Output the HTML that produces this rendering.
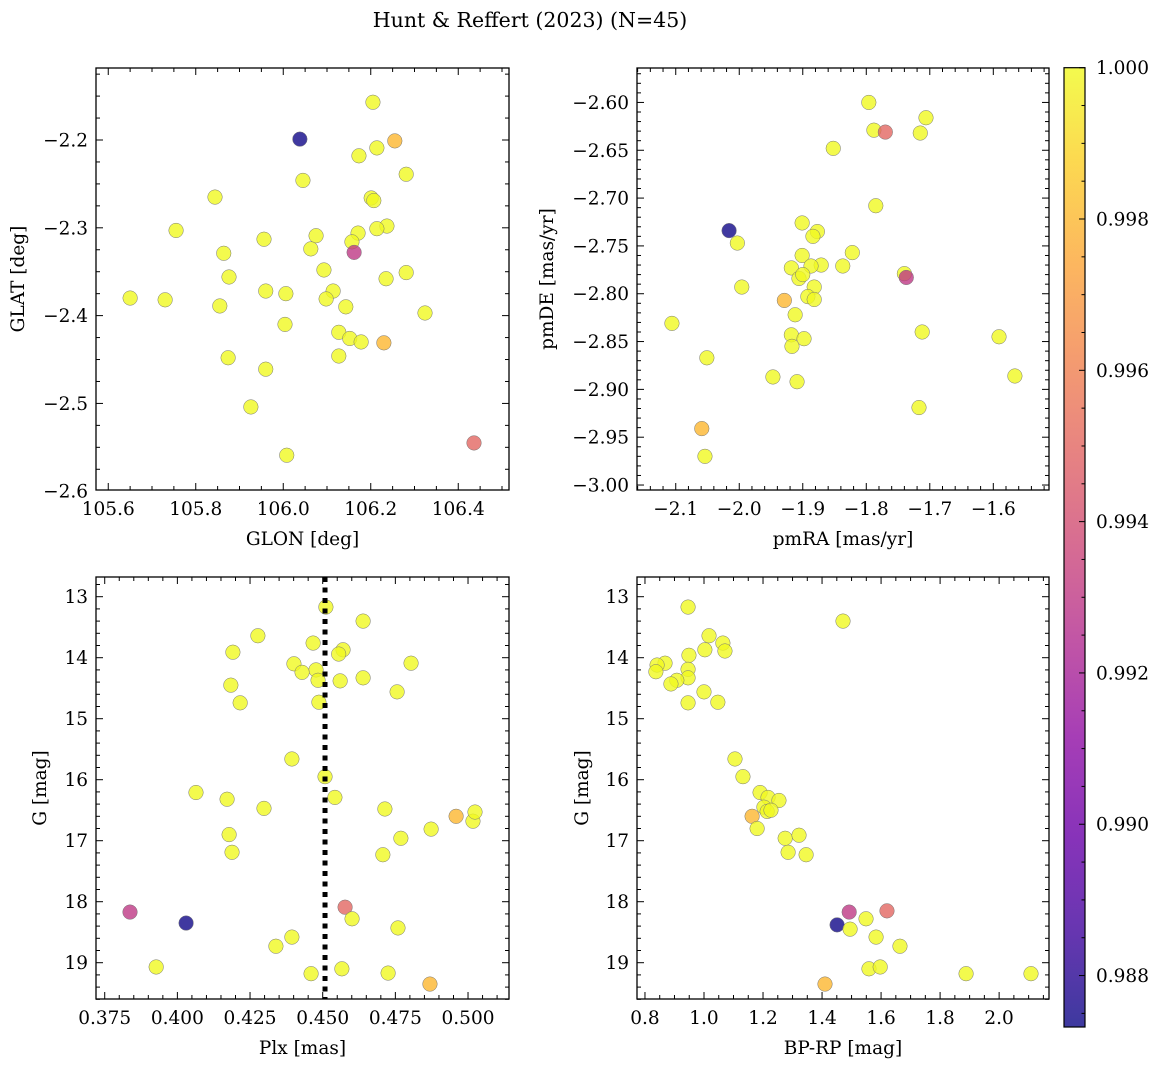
<!DOCTYPE html>
<html><head><meta charset="utf-8">
<style>
html,body{margin:0;padding:0;background:#fff;}
svg{display:block;font-family:"DejaVu Serif","Liberation Serif",serif;}
</style></head>
<body>
<svg id="fig" width="1161" height="1067" viewBox="0 0 1161 1067" xmlns="http://www.w3.org/2000/svg">
<defs>
<linearGradient id="cbgrad" x1="0" y1="1" x2="0" y2="0"></linearGradient>
</defs>
<text x="530" y="27" text-anchor="middle" font-size="20.5">Hunt &amp; Reffert (2023) (N=45)</text>
</svg>
<script>
// ---- data: panel 1 (GLON vs GLAT)
const glonP1 = [106.038,106.255,106.205,106.173,106.214,106.045,106.281,105.844,106.201,106.207,105.755,106.171,106.075,105.956,106.237,106.214,106.157,105.864,106.063,106.162,106.093,106.281,105.876,106.235,105.65,105.73,105.96,106.006,106.114,106.098,106.143,105.855,106.324,106.004,106.127,106.152,106.23,106.178,105.874,106.127,105.96,105.926,106.008,106.436];
const glatP1 = [-2.199,-2.201,-2.157,-2.218,-2.209,-2.246,-2.239,-2.265,-2.266,-2.269,-2.303,-2.306,-2.309,-2.313,-2.298,-2.301,-2.316,-2.329,-2.324,-2.328,-2.348,-2.351,-2.356,-2.358,-2.380,-2.382,-2.372,-2.375,-2.372,-2.381,-2.390,-2.389,-2.397,-2.410,-2.419,-2.426,-2.431,-2.430,-2.448,-2.446,-2.461,-2.504,-2.559,-2.545];
const probP1 = [0.9874,0.998,1,1,1,1,1,1,1,1,1,1,1,1,1,1,1,1,1,0.993,1,1,1,1,1,1,1,1,1,1,1,1,1,1,1,1,0.998,1,1,1,1,1,1,0.995];
// ---- data: panel 2 (pmRA vs pmDE)
const pmraP2 = [-1.796,-1.788,-1.770,-1.715,-1.706,-1.852,-1.785,-2.016,-2.003,-1.901,-1.877,-1.884,-1.901,-1.822,-1.918,-1.871,-1.887,-1.837,-1.906,-1.900,-1.740,-1.737,-1.882,-1.996,-1.929,-1.892,-1.882,-1.912,-2.106,-1.918,-1.898,-1.917,-1.712,-2.051,-1.591,-1.566,-1.947,-1.909,-1.717,-2.059,-2.054];
const pmdeP2 = [-2.600,-2.629,-2.631,-2.632,-2.616,-2.648,-2.708,-2.734,-2.747,-2.726,-2.735,-2.740,-2.760,-2.757,-2.773,-2.770,-2.771,-2.771,-2.784,-2.780,-2.779,-2.783,-2.793,-2.793,-2.807,-2.803,-2.806,-2.822,-2.831,-2.843,-2.847,-2.855,-2.840,-2.867,-2.845,-2.886,-2.887,-2.892,-2.919,-2.941,-2.970];
const probP2 = [1,1,0.995,1,1,1,1,0.9874,1,1,1,1,1,1,1,1,1,1,1,1,1,0.993,1,1,0.998,1,1,1,1,1,1,1,1,1,1,1,1,1,1,0.998,1];
// ---- data: panel 3 (Plx vs G)
const plxP3 = [0.4511,0.4639,0.4277,0.4467,0.457,0.4555,0.4191,0.4804,0.4401,0.4477,0.4429,0.4484,0.456,0.4639,0.4184,0.4756,0.4216,0.4487,0.4394,0.4508,0.4542,0.4064,0.4171,0.4298,0.4714,0.4959,0.5017,0.5024,0.4873,0.4178,0.4769,0.4188,0.4707,0.3837,0.403,0.4577,0.4601,0.4759,0.4394,0.4339,0.3927,0.4566,0.446,0.4725,0.4869];
const gP3 = [13.17,13.40,13.64,13.76,13.87,13.94,13.91,14.09,14.10,14.20,14.24,14.37,14.38,14.33,14.45,14.56,14.74,14.73,15.66,15.95,16.29,16.21,16.32,16.47,16.48,16.60,16.68,16.53,16.81,16.90,16.96,17.19,17.23,18.17,18.35,18.09,18.28,18.43,18.58,18.73,19.07,19.10,19.18,19.17,19.35];
const probP3 = [1,1,1,1,1,1,1,1,1,1,1,1,1,1,1,1,1,1,1,1,1,1,1,1,1,0.998,1,1,1,1,1,1,1,0.993,0.9874,0.995,1,1,1,1,1,1,1,1,0.998];
const plxMedian = 0.4508;
// ---- data: panel 4 (BP-RP vs G)
const bprpP4 = [0.946,1.471,1.017,1.064,1.071,1.003,0.949,0.868,0.841,0.946,0.837,0.946,0.908,0.888,1.0,0.946,1.047,1.105,1.132,1.19,1.217,1.254,1.203,1.214,1.227,1.163,1.18,1.275,1.322,1.285,1.346,1.492,1.62,1.451,1.549,1.495,1.583,1.664,1.559,1.597,1.888,2.108,1.41];
const gP4 = [13.17,13.40,13.64,13.76,13.89,13.87,13.96,14.09,14.12,14.19,14.23,14.33,14.37,14.43,14.56,14.74,14.73,15.66,15.95,16.21,16.29,16.34,16.45,16.52,16.50,16.60,16.80,16.96,16.91,17.19,17.23,18.17,18.15,18.38,18.28,18.45,18.58,18.73,19.10,19.07,19.18,19.18,19.35];
const probP4 = [1,1,1,1,1,1,1,1,1,1,1,1,1,1,1,1,1,1,1,1,1,1,1,1,1,0.998,1,1,1,1,1,0.993,0.995,0.9874,1,1,1,1,1,1,1,1,0.998];
// ---- tick labels
const ticksP1x = [105.6,105.8,106.0,106.2,106.4];
const ticksP1y = [-2.2,-2.3,-2.4,-2.5,-2.6];
const ticksP2x = [-2.1,-2.0,-1.9,-1.8,-1.7,-1.6];
const ticksP2y = [-2.60,-2.65,-2.70,-2.75,-2.80,-2.85,-2.90,-2.95,-3.00];
const ticksP3x = [0.375,0.400,0.425,0.450,0.475,0.500];
const ticksG = [13,14,15,16,17,18,19];
const ticksP4x = [0.8,1.0,1.2,1.4,1.6,1.8,2.0];
const ticksCb = [1.000,0.998,0.996,0.994,0.992,0.990,0.988];
const cmin = 0.98732, cmax = 1.0;

const NS = "http://www.w3.org/2000/svg";
const svg = document.getElementById('fig');
const FS = 18.5;
function mk(tag, attrs, parent){
  const e = document.createElementNS(NS, tag);
  for (const k in attrs) e.setAttribute(k, attrs[k]);
  (parent||svg).appendChild(e);
  return e;
}
const plasma = ["#0d0887","#41049d","#6a00a8","#8f0da4","#b12a90","#cc4778","#e16462","#f2844b","#fca636","#fcce25","#f0f921"];
function hex(h){return [parseInt(h.slice(1,3),16),parseInt(h.slice(3,5),16),parseInt(h.slice(5,7),16)];}
function cmap(t){
  t=Math.max(0,Math.min(1,t));
  const s=t*10, i=Math.min(9,Math.floor(s)), f=s-i;
  const a=hex(plasma[i]), b=hex(plasma[i+1]);
  return "rgb("+a.map((v,k)=>Math.round(v+(b[k]-v)*f)).join(",")+")";
}
function fmt(v,d){ const s=Math.abs(v).toFixed(d); return (v<0?"\u2212":"")+s; }

function panel(cfg){
  const g = mk('g',{});
  
  
  const L=cfg.L,R=cfg.R,T=cfg.T,B=cfg.B;
  const sx = v => L + (v-cfg.xd[0])/(cfg.xd[1]-cfg.xd[0])*(R-L);
  const sy = v => cfg.yinv ? T + (v-cfg.yd[0])/(cfg.yd[1]-cfg.yd[0])*(B-T)
                           : B - (v-cfg.yd[0])/(cfg.yd[1]-cfg.yd[0])*(B-T);
  const pg = mk('g',{},g);
  
  
  for(let i=0;i<cfg.xs.length;i++){
    const c = mk('circle',{cx:sx(cfg.xs[i]),cy:sy(cfg.ys[i]),r:7.3,fill:cmap((cfg.ps[i]-cmin)/(cmax-cmin)),'fill-opacity':0.8,stroke:'#777','stroke-width':0.5},pg);
    
    
  }
  if (cfg.vline!==undefined){
    const l = mk('line',{x1:sx(cfg.vline),x2:sx(cfg.vline),y1:T,y2:B,stroke:'#000','stroke-width':5,'stroke-dasharray':'5 5.5'},g);
    
    
  }
  const fr = mk('rect',{x:L,y:T,width:R-L,height:B-T,fill:'none',stroke:'#000','stroke-width':1.3},g);
  
  
  const xt = cfg.xt, xstep = xt[1]-xt[0];
  for(let k=-2;k<xt.length+2;k++){
    const base = xt[0]+k*xstep;
    for(let m=0;m<cfg.xm;m++){
      const v = base + m*xstep/cfg.xm;
      const x = sx(v);
      if (x<L-0.5||x>R+0.5) continue;
      const len = m===0?7:4;
      mk('line',{x1:x,x2:x,y1:B,y2:B-len,stroke:'#000','stroke-width':1},g);
      mk('line',{x1:x,x2:x,y1:T,y2:T+len,stroke:'#000','stroke-width':1},g);
    }
  }
  xt.forEach(v=>{
    const t = mk('text',{x:sx(v),y:B+25,'text-anchor':'middle','font-size':FS},g);
    t.textContent = fmt(v,cfg.xdec);
    
    
  });
  const yt = cfg.yt, ystep = yt[1]-yt[0];
  for(let k=-2;k<yt.length+2;k++){
    const base = yt[0]+k*ystep;
    for(let m=0;m<cfg.ym;m++){
      const v = base + m*ystep/cfg.ym;
      const y = sy(v);
      if (y<T-0.5||y>B+0.5) continue;
      const len = m===0?7:4;
      mk('line',{x1:L,x2:L+len,y1:y,y2:y,stroke:'#000','stroke-width':1},g);
      mk('line',{x1:R,x2:R-len,y1:y,y2:y,stroke:'#000','stroke-width':1},g);
    }
  }
  yt.forEach(v=>{
    const t = mk('text',{x:L-8,y:sy(v)+6.5,'text-anchor':'end','font-size':FS},g);
    t.textContent = fmt(v,cfg.ydec);
    
    
  });
  const xl = mk('text',{x:(L+R)/2,y:B+55,'text-anchor':'middle','font-size':FS},g);
  xl.textContent = cfg.xlab;
  
  
  const yx = cfg.ylabx, yy=(T+B)/2;
  const yl = mk('text',{x:yx,y:yy,'text-anchor':'middle','font-size':FS,transform:'rotate(-90 '+yx+' '+yy+')'},g);
  yl.textContent = cfg.ylab;
  
  
}

panel({name:'panel-glon-glat',L:96,R:509,T:68,B:490,xd:[105.572,106.516],yd:[-2.5986,-2.118],yinv:false,
  xs:glonP1,ys:glatP1,ps:probP1,xt:ticksP1x,xm:4,yt:ticksP1y.slice().reverse(),ym:4,xdec:1,ydec:1,
  xlab:'GLON [deg]',ylab:'GLAT [deg]',ylabx:24});
panel({name:'panel-pm',L:637,R:1049,T:68,B:490,xd:[-2.161,-1.5123],yd:[-3.0052,-2.564],yinv:false,
  xs:pmraP2,ys:pmdeP2,ps:probP2,xt:ticksP2x,xm:5,yt:ticksP2y.slice().reverse(),ym:5,xdec:1,ydec:2,
  xlab:'pmRA [mas/yr]',ylab:'pmDE [mas/yr]',ylabx:553});
panel({name:'panel-plx-g',L:96,R:509,T:577,B:999,xd:[0.3720,0.5141],yd:[12.677,19.595],yinv:true,
  xs:plxP3,ys:gP3,ps:probP3,xt:ticksP3x,xm:5,yt:ticksG,ym:5,xdec:3,ydec:0,
  xlab:'Plx [mas]',ylab:'G [mag]',ylabx:46,vline:plxMedian});
panel({name:'panel-cmd',L:637,R:1049,T:577,B:999,xd:[0.773,2.169],yd:[12.677,19.595],yinv:true,
  xs:bprpP4,ys:gP4,ps:probP4,xt:ticksP4x,xm:4,yt:ticksG,ym:5,xdec:1,ydec:0,
  xlab:'BP-RP [mag]',ylab:'G [mag]',ylabx:588});

(function(){
  const grad = document.getElementById('cbgrad');
  for(let i=0;i<=20;i++){
    mk('stop',{offset:(i/20),'stop-color':cmap(i/20),'stop-opacity':0.8},grad);
  }
  const T=67.7,B=1027,L=1064,R=1085;
  const sy = v => B - (v-cmin)/(cmax-cmin)*(B-T);
  const cb = mk('g',{});
  
  
  const r = mk('rect',{x:L,y:T,width:R-L,height:B-T,fill:'url(#cbgrad)',stroke:'#000','stroke-width':1.2},cb);
  
  
  const step = 0.002;
  for(let k=0;k<8;k++){
    for(let m=0;m<4;m++){
      const v = 1.0 - k*step - m*step/4;
      const y = sy(v);
      if (y<T-0.5||y>B+0.5) continue;
      const len = m===0?6:3.5;
      mk('line',{x1:R,x2:R-len,y1:y,y2:y,stroke:'#000','stroke-width':1},cb);
    }
  }
  ticksCb.forEach(v=>{
    const t = mk('text',{x:1096,y:sy(v)+6.5,'font-size':FS},cb);
    t.textContent = v.toFixed(3);
    
    
  });
})();
</script>
</body></html>
